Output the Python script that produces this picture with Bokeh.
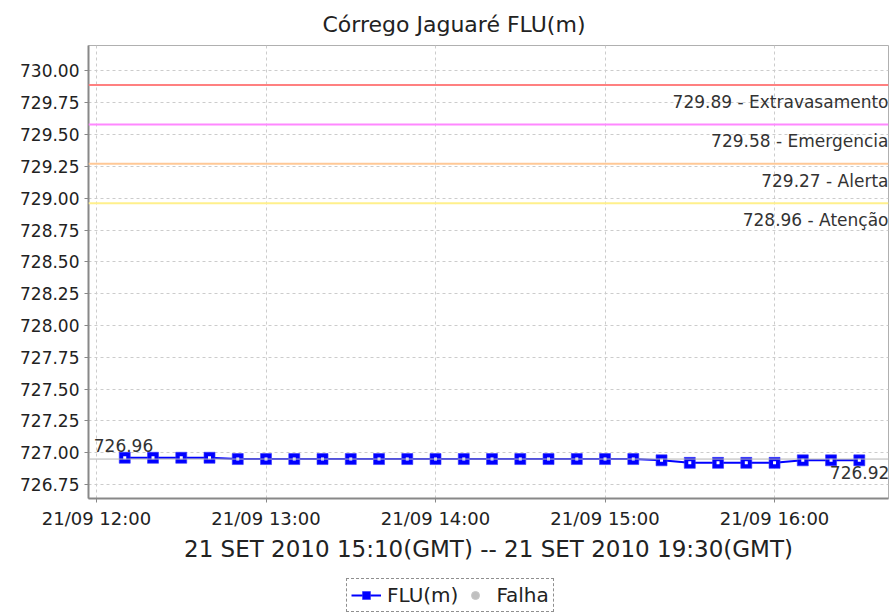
from datetime import datetime
from bokeh.plotting import figure
from bokeh.layouts import column
from bokeh.models import (ColumnDataSource, Span, Label, Legend, LegendItem,
                          FixedTicker, Range1d, Title)
from bokeh.embed import file_html
from bokeh.resources import INLINE

# ---- data ----
times = ["2010-09-21 12:10", "2010-09-21 12:20", "2010-09-21 12:30", "2010-09-21 12:40",
         "2010-09-21 12:50", "2010-09-21 13:00", "2010-09-21 13:10", "2010-09-21 13:20",
         "2010-09-21 13:30", "2010-09-21 13:40", "2010-09-21 13:50", "2010-09-21 14:00",
         "2010-09-21 14:10", "2010-09-21 14:20", "2010-09-21 14:30", "2010-09-21 14:40",
         "2010-09-21 14:50", "2010-09-21 15:00", "2010-09-21 15:10", "2010-09-21 15:20",
         "2010-09-21 15:30", "2010-09-21 15:40", "2010-09-21 15:50", "2010-09-21 16:00",
         "2010-09-21 16:10", "2010-09-21 16:20", "2010-09-21 16:30"]
flu = [726.96, 726.96, 726.96, 726.96, 726.95, 726.95, 726.95, 726.95, 726.95,
       726.95, 726.95, 726.95, 726.95, 726.95, 726.95, 726.95, 726.95, 726.95,
       726.95, 726.94, 726.92, 726.92, 726.92, 726.92, 726.94, 726.94, 726.94]
falha_vals = [float("nan")]   # no failures in the period
threshold_values = [729.89, 729.58, 729.27, 728.96]
threshold_names = ["Extravasamento", "Emergencia", "Alerta", "Atenção"]
threshold_colors = ["#ff8080", "#ff88ff", "#ffc896", "#fff08c"]
ref_line = [726.95]
first_label = ["726.96"]
last_label = ["726.92"]
x_tick_times = ["2010-09-21 12:00", "2010-09-21 13:00", "2010-09-21 14:00",
                "2010-09-21 15:00", "2010-09-21 16:00"]
x_tick_labels = ["21/09 12:00", "21/09 13:00", "21/09 14:00", "21/09 15:00", "21/09 16:00"]
y_ticks = [726.75, 727.00, 727.25, 727.50, 727.75, 728.00, 728.25, 728.50,
           728.75, 729.00, 729.25, 729.50, 729.75, 730.00]
title_text = "Córrego Jaguaré FLU(m)"
x_axis_label = "21 SET 2010 15:10(GMT) -- 21 SET 2010 19:30(GMT)"


def ms(s):
    return datetime.strptime(s, "%Y-%m-%d %H:%M").timestamp() * 1000.0


xs = [ms(t) for t in times]
FONT = "DejaVu Sans"

x_start = ms("2010-09-21 11:57") + 10 * 1000
x_end = ms("2010-09-21 16:40") + 20 * 1000

p = figure(width=891, height=572, output_backend="svg", toolbar_location=None,
           x_axis_type="datetime",
           x_range=Range1d(x_start, x_end), y_range=Range1d(726.64, 730.20),
           min_border_left=88, min_border_right=3, min_border_top=45,
           min_border_bottom=74)
p.background_fill_color = "white"
p.border_fill_color = "white"
p.outline_line_color = "#b0b0b0"

p.title = Title(text=title_text, align="left", text_font=FONT,
                text_font_size="22px", text_font_style="normal",
                text_color="#222222", offset=234, standoff=17)

# axes
p.xaxis.ticker = FixedTicker(ticks=[ms(t) for t in x_tick_times])
p.xaxis.major_label_overrides = {ms(t): l for t, l in zip(x_tick_times, x_tick_labels)}
p.yaxis.ticker = FixedTicker(ticks=y_ticks)
p.yaxis.major_label_overrides = {v: f"{v:.2f}" for v in y_ticks}
for ax in (p.xaxis[0], p.yaxis[0]):
    ax.major_label_text_font = FONT
    ax.major_label_text_color = "#222222"
    ax.axis_line_color = "#888888"
    ax.axis_line_width = 2
    ax.major_tick_line_color = "#888888"
    ax.major_tick_in = 0
    ax.major_tick_out = 4
    ax.minor_tick_line_color = None
p.yaxis.major_label_text_font_size = "17px"
p.xaxis.major_label_text_font_size = "18px"
p.xaxis.axis_label = x_axis_label
p.xaxis.axis_label_text_font = FONT
p.xaxis.axis_label_text_font_size = "23px"
p.xaxis.axis_label_text_font_style = "normal"
p.xaxis.axis_label_text_color = "#222222"
p.xaxis.axis_label_standoff = 4

p.xgrid.ticker = p.xaxis[0].ticker
p.ygrid.ticker = p.yaxis[0].ticker
for g in (p.xgrid[0], p.ygrid[0]):
    g.grid_line_color = "#cccccc"
    g.grid_line_dash = "3 3"
    g.grid_line_width = 1

# thresholds
for v, name, c in zip(threshold_values, threshold_names, threshold_colors):
    p.add_layout(Span(location=v, dimension="width", line_color=c, line_width=2))
    p.add_layout(Label(x=x_end, y=v, text=f"{v:.2f} - {name}", text_align="right",
                       text_baseline="top", x_offset=0, y_offset=-7,
                       text_font=FONT, text_font_size="17px", text_color="#333333"))

p.add_layout(Span(location=ref_line[0], dimension="width", line_color="#b4b4b4",
                  line_width=1))

src = ColumnDataSource(dict(x=xs, y=flu))
ln = p.line("x", "y", source=src, line_color="#0000ff", line_width=2)
sq = p.scatter("x", "y", source=src, marker="square", size=11,
               fill_color="#0000ff", line_color="#3333ff", line_alpha=0.6)
p.scatter("x", "y", source=src, marker="square", size=3,
          fill_color="white", line_color=None)

p.add_layout(Label(x=xs[0], y=flu[0], text=first_label[0], text_align="left",
                   text_baseline="bottom", x_offset=-31, y_offset=6,
                   text_font=FONT, text_font_size="17px", text_color="#333333"))
p.add_layout(Label(x=xs[-1], y=flu[-1], text=last_label[0], text_align="right",
                   text_baseline="top", x_offset=30, y_offset=-6,
                   text_font=FONT, text_font_size="17px", text_color="#333333"))

# legend strip
lg = figure(width=891, height=43, output_backend="svg", toolbar_location=None,
            x_range=Range1d(0, 1), y_range=Range1d(0, 1),
            min_border=0)
lg.axis.visible = False
lg.grid.visible = False
lg.outline_line_color = None
lln = lg.line("x", "y", source=src, line_color="#0000ff", line_width=2)
lsq = lg.scatter("x", "y", source=src, marker="square", size=11,
                 fill_color="#0000ff", line_color="#3333ff", line_alpha=0.6)
fsrc = ColumnDataSource(dict(x=[float("nan")] * len(falha_vals), y=falha_vals))
fr = lg.scatter("x", "y", source=fsrc, marker="circle", size=12,
                fill_color="#c0c0c0", line_color="#c8c8c8")

legend = Legend(items=[LegendItem(label="FLU(m)", renderers=[lln, lsq]),
                       LegendItem(label="Falha", renderers=[fr])],
                orientation="horizontal", location=(258, 3),
                label_text_font=FONT, label_text_font_size="20px",
                label_text_color="#222222",
                border_line_color="#222222", border_line_dash="2 2",
                border_line_width=1, padding=4, spacing=2, margin=0,
                glyph_width=30, glyph_height=20, label_height=20,
                label_standoff=6)
lg.add_layout(legend)

layout = column(p, lg, spacing=0)
open("out.html", "w").write(file_html(layout, INLINE))
